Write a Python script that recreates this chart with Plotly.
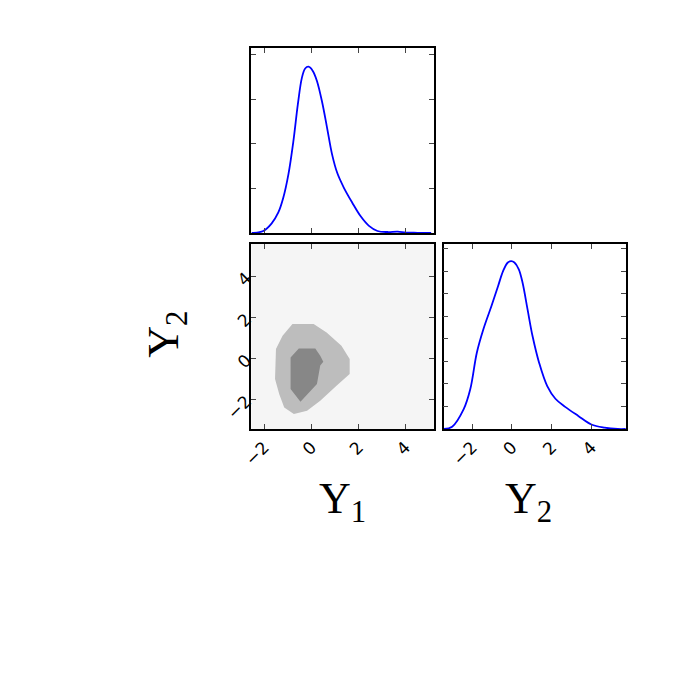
import plotly.graph_objects as go

# 1D marginal of Upsilon_1 (top panel)
u1_x = [-2.54, -2.04, -1.69, -1.40, -1.19, -0.97, -0.76, -0.57, -0.40, -0.26, -0.12,
        0.07, 0.24, 0.45, 0.67, 0.88, 1.10, 1.38, 1.74, 2.09, 2.45, 2.81, 3.24, 3.67,
        4.02, 4.52, 5.09]
u1_p = [0.0, 0.0045, 0.021, 0.046, 0.079, 0.132, 0.206, 0.289, 0.348, 0.369, 0.373,
        0.363, 0.341, 0.296, 0.236, 0.177, 0.135, 0.102, 0.068, 0.038, 0.016, 0.0045,
        0.0022, 0.003, 0.001, 0.0005, 0.0]

# 1D marginal of Upsilon_2 (bottom right panel)
u2_x = [-3.41, -3.0, -2.42, -2.09, -1.76, -1.43, -1.02, -0.69, -0.44, -0.20, -0.03,
        0.13, 0.35, 0.54, 0.79, 1.04, 1.37, 1.78, 2.19, 2.68, 3.34, 4.0, 4.66, 5.32, 5.73]
u2_p = [0.0, 0.005, 0.044, 0.088, 0.169, 0.221, 0.273, 0.317, 0.350, 0.369, 0.372,
        0.369, 0.354, 0.324, 0.265, 0.206, 0.147, 0.095, 0.067, 0.049, 0.029, 0.010,
        0.003, 0.0, 0.0]

# 2D credible regions (outer 95%, inner 68%)
outer_x = [-0.80, 0.10, 0.65, 1.28, 1.63, 1.63, 1.07, 0.38, -0.18, -0.74, -1.15,
           -1.36, -1.54, -1.50, -1.22, -0.80]
outer_y = [1.66, 1.66, 1.25, 0.60, -0.05, -0.78, -1.35, -2.08, -2.57, -2.73, -2.41,
           -1.76, -1.02, 0.44, 1.09, 1.66]
inner_x = [-0.53, 0.17, 0.38, 0.51, 0.38, 0.24, -0.46, -0.88, -0.88, -0.53]
inner_y = [0.47, 0.47, 0.11, -0.18, -0.37, -1.27, -2.13, -1.51, 0.03, 0.47]

xr1 = [-2.54, 5.2]
yr2 = [-3.46, 5.56]
xr3 = [-3.43, 5.73]

fig = go.Figure()

blue = dict(color="#0000ff", width=1.8)
fig.add_trace(go.Scatter(x=u1_x, y=u1_p, mode="lines", line=blue,
                         line_shape="spline", xaxis="x", yaxis="y"))
fig.add_trace(go.Scatter(x=outer_x, y=outer_y, mode="lines", fill="toself",
                         fillcolor="#bdbdbd", line=dict(width=0, color="#bdbdbd"),
                         xaxis="x2", yaxis="y2"))
fig.add_trace(go.Scatter(x=inner_x, y=inner_y, mode="lines", fill="toself",
                         fillcolor="#878787", line=dict(width=0, color="#878787"),
                         xaxis="x2", yaxis="y2"))
fig.add_trace(go.Scatter(x=u2_x, y=u2_p, mode="lines", line=blue,
                         line_shape="spline", xaxis="x3", yaxis="y3"))

W = 674.0
OX, OY = 8, 7  # page offset of the plot in the browser


def fx(px):
    return (px - OX) / W


def fy(py):
    return 1 - (py - OY) / W


dx1 = [fx(245), fx(430)]
dx2 = [fx(440), fx(625)]
dy_top = [fy(232), fy(47)]
dy_bot = [fy(428), fy(243)]

ax = dict(showline=True, mirror="ticks", linecolor="black", linewidth=1.5,
          ticks="inside", ticklen=5, tickcolor="#444", tickwidth=1,
          showgrid=False, zeroline=False, fixedrange=True,
          tickfont=dict(family="DejaVu Sans", size=17, color="black"))

fig.update_layout(
    width=674, height=674,
    margin=dict(l=0, r=0, t=0, b=0),
    paper_bgcolor="white", plot_bgcolor="white",
    showlegend=False,
    xaxis=dict(ax, domain=dx1, range=xr1, tickvals=[-2, 0, 2, 4],
               showticklabels=False, anchor="y"),
    yaxis=dict(ax, domain=dy_top, range=[0, 0.415], dtick=0.1,
               showticklabels=False, anchor="x"),
    xaxis2=dict(ax, domain=dx1, range=xr1, tickvals=[-2, 0, 2, 4],
                tickangle=-45, anchor="y2"),
    yaxis2=dict(ax, domain=dy_bot, range=yr2, tickvals=[-2, 0, 2, 4],
                tickangle=-45, anchor="x2"),
    xaxis3=dict(ax, domain=dx2, range=xr3, tickvals=[-2, 0, 2, 4],
                tickangle=-45, anchor="y3"),
    yaxis3=dict(ax, domain=dy_bot, range=[0, 0.41], dtick=0.05,
                showticklabels=False, anchor="x3"),
)

# light background of the 2D panel
fig.add_shape(type="rect", xref="x2 domain", yref="y2 domain", x0=0, x1=1, y0=0, y1=1,
              fillcolor="#f5f5f5", line=dict(width=0), layer="below")

lab = dict(family="Liberation Serif", size=44, color="black")
fig.add_annotation(text="Υ<sub>1</sub>", x=fx(337), y=fy(530), xref="paper",
                   yref="paper", showarrow=False, font=lab)
fig.add_annotation(text="Υ<sub>2</sub>", x=fx(552), y=fy(530), xref="paper",
                   yref="paper", showarrow=False, font=lab)
fig.add_annotation(text="Υ<sub>2</sub>", x=fx(129), y=fy(333), xref="paper",
                   yref="paper", showarrow=False, font=lab, textangle=-90)

fig.write_html("out.html")
